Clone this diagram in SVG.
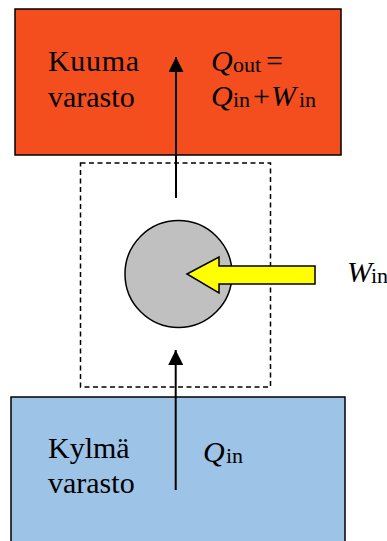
<svg xmlns="http://www.w3.org/2000/svg" width="387" height="541" viewBox="0 0 387 541">
  <style>
    text { font-family: 'Liberation Serif', 'Times New Roman', serif; font-size: 30px; fill: #000; }
    .var { font-style: italic; }
    .sub { font-size: 22px; font-style: normal; }
    .box { stroke: #000; stroke-width: 1.5; }
    .flow { stroke: #000; stroke-width: 2; fill: none; }
  </style>
  <defs>
    <marker id="head" viewBox="0 0 10 10" refX="10" refY="5" markerWidth="15" markerHeight="15" markerUnits="userSpaceOnUse" orient="auto">
      <path d="M0,0 L10,5 L0,10 Z" fill="#000"/>
    </marker>
  </defs>

  <!-- hot reservoir -->
  <g id="hot">
    <rect class="box" x="15" y="9" width="326" height="146" fill="#F54E1E"/>
    <text x="48" y="71" textLength="91" lengthAdjust="spacing">Kuuma</text>
    <text x="48" y="106.5">varasto</text>
    <text y="70.5"><tspan class="var" x="211">Q</tspan><tspan class="sub" x="233" dy="1">out</tspan><tspan x="266" dy="-1">=</tspan></text>
    <text y="106"><tspan class="var" x="211">Q</tspan><tspan class="sub" x="233" dy="1">in</tspan><tspan x="253" dy="-1">+</tspan><tspan class="var" x="271">W</tspan><tspan class="sub" x="299" dy="1">in</tspan></text>
  </g>

  <!-- cold reservoir -->
  <g id="cold">
    <rect class="box" x="11" y="397" width="334" height="150" fill="#9DC3E6"/>
    <text x="48" y="457.5">Kylmä</text>
    <text x="48" y="492.5">varasto</text>
    <text y="461.5"><tspan class="var" x="203">Q</tspan><tspan class="sub" x="226" dy="1">in</tspan></text>
  </g>

  <!-- system boundary -->
  <g id="system">
    <rect x="80.5" y="163" width="190" height="224" fill="none" stroke="#000" stroke-width="1.5" stroke-dasharray="5,3.5"/>
  </g>

  <!-- heat pump -->
  <g id="pump">
    <circle cx="178.5" cy="274" r="53.5" fill="#C0C0C0" stroke="#000" stroke-width="1.5"/>
  </g>

  <!-- work input -->
  <g id="work">
    <path d="M187,274 L219,257 L219,266 L315,266 L315,284 L219,284 L219,293 Z" fill="#FFFF00" stroke="#000" stroke-width="1.5" stroke-linejoin="miter"/>
    <text y="282"><tspan class="var" x="347">W</tspan><tspan class="sub" x="371" dy="1">in</tspan></text>
  </g>

  <!-- heat flows -->
  <g id="connectors">
    <line class="flow" x1="176" y1="198" x2="176" y2="57" marker-end="url(#head)"/>
    <line class="flow" x1="175.7" y1="490" x2="175.7" y2="350" marker-end="url(#head)"/>
  </g>
</svg>
